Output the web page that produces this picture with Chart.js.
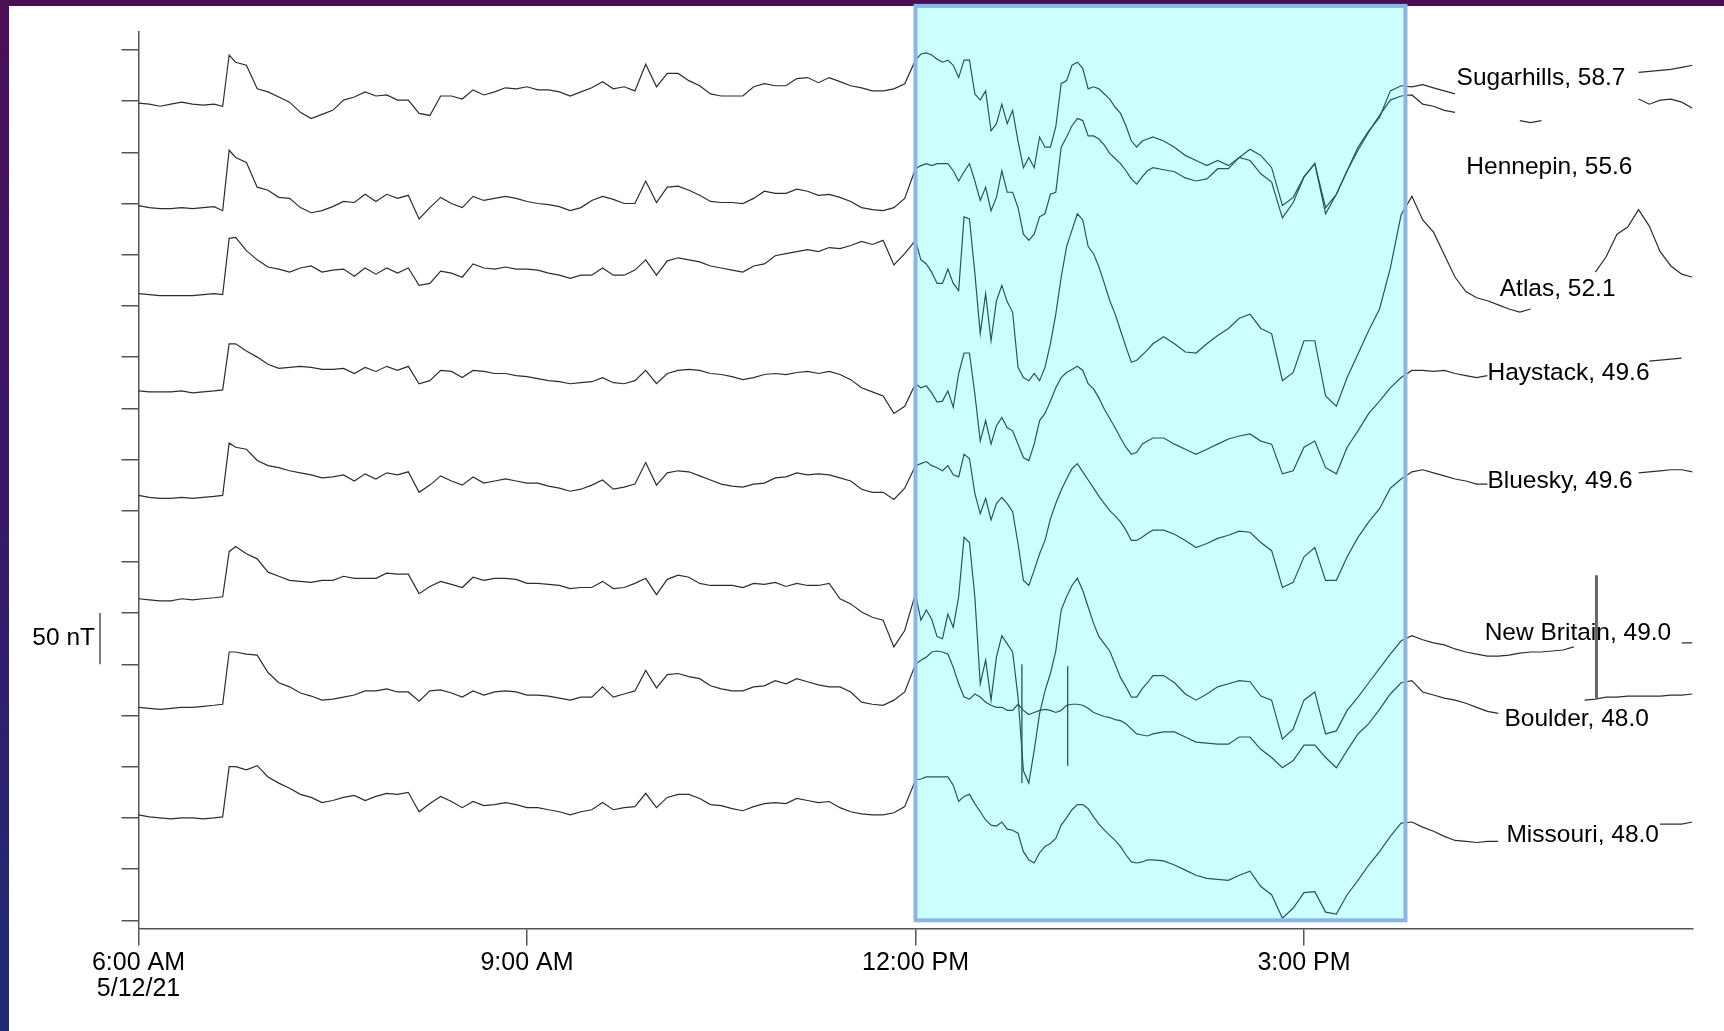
<!DOCTYPE html>
<html>
<head>
<meta charset="utf-8">
<title>Magnetometer traces, 5/12/21</title>
<script src="https://cdn.jsdelivr.net/npm/chart.js@4/dist/chart.umd.min.js"></script>
<style>
  html, body { margin: 0; padding: 0; }
  body {
    width: 1724px; height: 1031px; overflow: hidden; position: relative;
    background: linear-gradient(180deg, #4a0e55 0%, #36186a 50%, #1f2c74 100%);
  }
  #panel { position: absolute; left: 9px; top: 6px; right: 0; bottom: 0; background: #fff; }
  #magChart { position: absolute; left: 0; top: 0; }
</style>
</head>
<body>
<div id="panel"></div>
<canvas id="magChart" width="1724" height="1031"></canvas>
<script>
// minutes after 6:00 AM local, 5/12/21
const times = [0,5,10,15,20,25,30,35,39,42,
  45,50,55,60,65,70,75,80,85,90,95,100,105,110,115,120,125,130,135,140,145,150,155,160,165,170,175,180,
  185,190,195,200,205,210,215,220,225,230,235,240,245,250,255,260,265,270,275,280,285,290,295,300,305,310,315,320,325,330,335,340,345,350,355,
  360,362.5,365,367.5,370,372.5,375,377.5,380,382.5,385,387.5,390,392.5,395,397.5,400,402.5,405,407.5,410,412.5,415,417.5,420,422.5,425,427.5,430,432.5,435,437.5,440,442.5,445,447.5,450,452.5,455,457.5,460,462.5,465,467.5,470,
  475,480,485,490,495,500,505,510,515,520,525,530,535,540,545,550,555,560,565,570,575,580,585,590,
  595,600,605,610,615,620,625,630,635,640,645,650,655,660,665,670,675,680,685,690,695,700,705,710,715,720];

const stations = ['Sugarhills', 'Hennepin', 'Atlas', 'Haystack', 'Bluesky', 'New Britain', 'Boulder', 'Missouri'];
const magLat = [58.7, 55.6, 52.1, 49.6, 49.6, 49.0, 48.0, 48.0];
// stacking offset of each trace (nT)
const offsets = [798, 698, 612, 517, 415, 314, 208, 103];

// H variation per station (nT), null where no trace is visible
const sugarhills = [0,-1,-3,-1,1,-1,-2,-1,-3,47,
  40,37,14,11,6,1,-9,-15,-11,-7,3,6,11,7,8,3,3,-10,-12,7,7,4,13,8,11,15,14,16,
  13,13,11,7,11,15,21,14,16,12,38,16,29,29,22,17,9,7,7,7,16,19,17,17,24,25,20,25,21,17,15,12,12,14,19,
  42,48,49,47,43,40,42,37,25,42,42,9,3,12,-27,-20,-1,-20,-7,-37,-63,-53,-63,-33,-43,-43,-23,19,22,37,40,34,14,16,14,9,4,-4,-10,-22,-37,-43,-37,-35,-33,
  -37,-43,-51,-56,-61,-56,-61,-53,-45,-51,-63,-100,-92,-72,-59,-102,-89,-66,-43,-27,-14,12,17,16,
  18,15,12,9,null,null,null,null,null,null,null,null,null,null,null,null,null,null,null,null,30,31,32,33,35,37];

const hennepin = [0,-2,-3,-3,-2,-3,-2,-1,-5,54,
  47,42,18,15,8,7,-2,-7,-5,-1,4,3,11,4,11,7,10,-13,-2,8,2,-2,9,5,7,9,7,4,
  2,1,-1,-5,-2,5,9,6,2,2,24,3,18,19,15,10,4,3,3,2,7,14,12,12,16,14,10,11,8,4,-2,-4,-5,-2,7,
  36,39,41,39,41,41,41,34,24,33,41,24,5,18,-5,8,34,13,13,-2,-28,-34,-28,-11,-8,11,13,57,67,78,85,83,68,68,65,59,51,46,41,34,26,21,28,34,37,
  35,33,27,24,26,36,36,47,44,31,23,-12,3,28,41,-8,11,34,54,72,88,103,107,108,
  99,97,93,91,null,null,null,null,null,83,81,83,null,null,null,null,null,null,null,null,104,99,103,104,101,95];

const atlas = [0,-1,-2,-2,-2,-2,-1,0,-1,54,
  55,42,33,26,24,21,25,27,21,23,24,17,25,19,25,20,25,8,10,22,20,16,29,25,24,26,24,24,
  23,20,18,15,18,18,25,18,18,23,33,18,32,35,33,31,27,25,23,21,27,29,37,39,41,43,41,45,44,47,51,48,52,28,39,
  52,33,29,21,10,10,24,10,3,75,73,20,-39,0,-46,-7,8,-8,-18,-72,-82,-85,-78,-85,-72,-49,-20,16,46,62,78,72,46,39,26,10,-7,-20,-36,-52,-67,-65,-60,-55,-49,
  -42,-49,-57,-58,-49,-41,-34,-24,-20,-34,-39,-85,-77,-46,-46,-100,-110,-82,-59,-36,-15,25,77,95,
  72,60,38,16,2,-4,-7,-11,-15,-18,-15,null,null,null,null,null,21,36,58,65,82,66,41,27,19,16];

const haystack = [0,-1,-1,-1,0,-2,-1,0,1,46,
  46,39,33,26,22,23,24,23,21,21,22,17,23,19,24,20,24,7,10,20,19,13,20,19,17,17,15,14,
  12,10,9,7,8,9,13,8,7,10,20,7,17,20,21,20,17,16,14,11,13,16,17,16,18,19,17,19,16,11,3,-1,-5,-22,-15,
  7,3,5,-2,-11,-10,0,-16,17,37,37,-3,-49,-29,-52,-34,-26,-36,-39,-52,-65,-68,-52,-29,-22,-10,3,13,18,21,24,20,7,2,-7,-18,-27,-36,-46,-55,-62,-60,-52,-49,-46,
  -46,-52,-57,-62,-57,-52,-47,-44,-42,-49,-52,-81,-78,-55,-49,-75,-81,-55,-39,-22,-10,3,13,20,
  20,19,20,17,15,13,15,null,null,null,null,null,null,null,null,null,null,null,null,null,null,29,30,31,32];

const bluesky = [0,-2,-3,-3,-2,-3,-2,-1,0,51,
  47,45,34,29,27,24,22,20,17,18,20,14,21,16,22,20,23,3,10,19,14,10,18,12,14,16,14,12,
  12,9,7,4,6,10,15,6,8,11,32,10,22,24,23,19,15,11,9,8,11,12,17,18,22,20,21,20,17,14,6,3,3,-4,7,
  29,31,33,29,27,24,29,20,18,40,36,2,-18,-3,-24,-8,-2,-8,-16,-47,-83,-88,-73,-57,-44,-23,-8,5,16,26,31,23,15,7,-1,-8,-15,-20,-26,-34,-44,-44,-41,-37,-34,
  -34,-38,-44,-51,-47,-42,-39,-35,-36,-46,-54,-90,-85,-60,-51,-83,-83,-60,-41,-26,-13,7,16,23,
  25,22,19,16,14,11,11,null,null,null,null,null,null,null,null,null,null,null,null,null,22,23,24,25,25,23];

const newBritain = [0,-1,-2,-2,0,-1,0,1,2,46,
  51,44,39,26,22,18,17,16,18,18,22,20,20,20,25,24,24,5,12,17,14,11,21,18,20,20,19,15,
  15,14,13,10,11,11,17,10,11,15,20,4,19,23,21,15,13,13,13,11,15,14,16,12,15,13,13,15,0,-5,-13,-18,-21,-47,-31,
  5,-21,-11,-20,-37,-39,-15,-28,2,60,55,2,-83,-60,-99,-57,-36,-44,-52,-96,-168,-180,-148,-112,-90,-73,-51,-11,2,13,20,8,-8,-24,-37,-44,-51,-64,-77,-86,-96,-96,-88,-82,-75,
  -75,-82,-93,-99,-93,-86,-83,-80,-81,-95,-99,-137,-127,-99,-91,-132,-129,-109,-96,-82,-68,-54,-41,-36,
  -40,-43,-45,-49,-52,-54,-56,-56,-55,-53,-52,-52,-51,-50,-47,null,null,null,null,null,null,null,null,null,-43,-43];

const boulder = [0,-1,-2,-1,0,0,1,2,3,54,
  54,52,51,34,24,20,14,11,7,8,10,12,16,16,18,15,15,6,16,17,14,10,16,12,15,16,15,12,
  12,11,9,7,10,10,20,10,13,16,36,19,32,33,30,28,21,18,16,16,20,21,26,23,28,25,22,20,20,15,5,3,2,7,15,
  42,46,49,54,55,54,52,39,23,10,8,13,10,5,2,0,0,-3,-3,3,-3,-7,-5,-3,-2,-3,-5,-3,2,3,3,2,-1,-5,-7,-9,-10,-12,-13,-16,-21,-26,-27,-28,-26,
  -24,-24,-29,-34,-35,-36,-36,-29,-29,-41,-49,-59,-52,-37,-37,-49,-59,-42,-26,-16,-2,13,24,26,
  15,12,9,7,4,0,-4,-6,null,null,null,null,null,null,null,7,8,10,10,11,11,11,11,12,12,13];

const missouri = [0,-2,-3,-4,-3,-3,-4,-3,-2,47,
  47,44,48,37,31,26,20,17,12,14,17,19,14,18,21,20,22,3,11,18,13,7,13,9,10,12,10,7,
  7,5,3,0,3,5,12,5,7,8,21,7,17,20,20,16,10,9,6,4,8,11,12,11,16,14,12,13,7,3,1,0,0,2,8,
  34,35,37,37,37,37,37,29,13,18,20,11,3,-5,-10,-11,-7,-14,-15,-18,-36,-44,-47,-37,-31,-28,-23,-10,-3,5,10,10,6,-2,-9,-15,-20,-25,-31,-39,-46,-47,-46,-44,-44,
  -45,-49,-54,-59,-62,-63,-64,-59,-55,-70,-78,-101,-91,-76,-75,-95,-97,-78,-64,-49,-36,-21,-8,-7,
  -12,-16,-21,-25,-26,-27,-26,-26,null,null,null,null,null,null,null,null,null,null,null,null,null,null,-9,-9,-9,-7];

// short spikes on the Boulder record: time (min), low and high (nT)
const spikeTimes = [409.3, 430.5, 675.5];
const spikeLow = [-74, -57, 9];
const spikeHigh = [42, 40, 129];

// x axis
const tickMinutes = [0, 180, 360, 540];
const tickLabels = [['6:00 AM', '5/12/21'], '9:00 AM', '12:00 PM', '3:00 PM'];

// highlighted storm interval (minutes) and its vertical extent (nT)
const stormWindow = [360, 587];
const stormBand = [0, 893];

const series = [sugarhills, hennepin, atlas, haystack, bluesky, newBritain, boulder, missouri];

// label anchors for the station names [minute, nT] (left edge, middle)
const labelAnchor = [[610.7, 822], [615.2, 735], [630.7, 616], [625, 534], [625, 428.7], [623.7, 280.8], [632.9, 196.4], [633.8, 83.2]];

const FONT = '"Liberation Sans", Arial, Helvetica, sans-serif';
Chart.defaults.font.family = FONT;
Chart.defaults.color = '#000';

const datasets = series.map((vals, i) => ({
  label: stations[i],
  data: times.map((t, k) => ({ x: t, y: vals[k] === null ? null : offsets[i] + vals[k] })),
  borderColor: '#2d2d2d',
  borderWidth: 1.2,
  pointRadius: 0,
  tension: 0
}));

spikeTimes.forEach((t, k) => {
  datasets.push({
    label: 'Boulder spike',
    data: [{ x: t, y: offsets[6] + spikeLow[k] }, { x: t, y: offsets[6] + spikeHigh[k] }],
    borderColor: t > stormWindow[1] ? '#666' : '#2d2d2d',
    borderWidth: t > stormWindow[1] ? 3 : 1.3,
    pointRadius: 0
  });
});

const annotations = {
  id: 'annotations',
  afterDatasetsDraw(chart) {
    const { ctx, scales: { x, y } } = chart;
    ctx.save();

    // storm interval box
    const left = x.getPixelForValue(stormWindow[0]);
    const right = x.getPixelForValue(stormWindow[1]);
    const top = y.getPixelForValue(stormBand[1]);
    const bottom = y.getPixelForValue(stormBand[0]);
    ctx.fillStyle = 'rgba(0, 255, 255, 0.2)';
    ctx.fillRect(left, top, right - left, bottom - top);
    ctx.strokeStyle = '#8db4e2';
    ctx.lineWidth = 4;
    ctx.strokeRect(left, top, right - left, bottom - top);

    // station names
    ctx.font = '24.5px ' + FONT;
    ctx.fillStyle = '#000';
    ctx.textAlign = 'left';
    ctx.textBaseline = 'middle';
    stations.forEach((s, i) => {
      ctx.fillText(s + ', ' + magLat[i].toFixed(1),
        x.getPixelForValue(labelAnchor[i][0]), y.getPixelForValue(labelAnchor[i][1]));
    });

    // 50 nT scale bar
    const barTop = y.getPixelForValue(300);
    const barBottom = y.getPixelForValue(250);
    ctx.strokeStyle = '#222';
    ctx.lineWidth = 1.2;
    ctx.beginPath();
    ctx.moveTo(100, barTop);
    ctx.lineTo(100, barBottom);
    ctx.stroke();
    ctx.textAlign = 'right';
    ctx.fillText('50 nT', 95, (barTop + barBottom) / 2);

    ctx.restore();
  }
};

new Chart(document.getElementById('magChart'), {
  type: 'line',
  data: { datasets },
  options: {
    responsive: false,
    animation: false,
    events: [],
    layout: { padding: { left: 121.5, right: 31.5, top: 32, bottom: 25 } },
    plugins: { legend: { display: false }, tooltip: { enabled: false } },
    scales: {
      x: {
        type: 'linear',
        min: 0,
        max: 720,
        afterBuildTicks: axis => { axis.ticks = tickMinutes.map(v => ({ value: v })); },
        ticks: {
          autoSkip: false,
          maxRotation: 0,
          padding: 4,
          font: { size: 25, lineHeight: 1.05 },
          color: '#000',
          callback: (v, i) => tickLabels[i]
        },
        grid: { drawOnChartArea: false, tickLength: 17, color: '#555', lineWidth: 1.5 },
        border: { color: '#555', width: 1.5 }
      },
      y: {
        type: 'linear',
        min: -8,
        max: 867.5,
        afterBuildTicks: axis => {
          const t = [];
          for (let v = 0; v <= 850; v += 50) t.push({ value: v });
          axis.ticks = t;
        },
        ticks: { display: false },
        grid: { drawOnChartArea: false, tickLength: 17, color: '#555', lineWidth: 1.5 },
        border: { color: '#555', width: 1.5 }
      }
    }
  },
  plugins: [annotations]
});
</script>
</body>
</html>
